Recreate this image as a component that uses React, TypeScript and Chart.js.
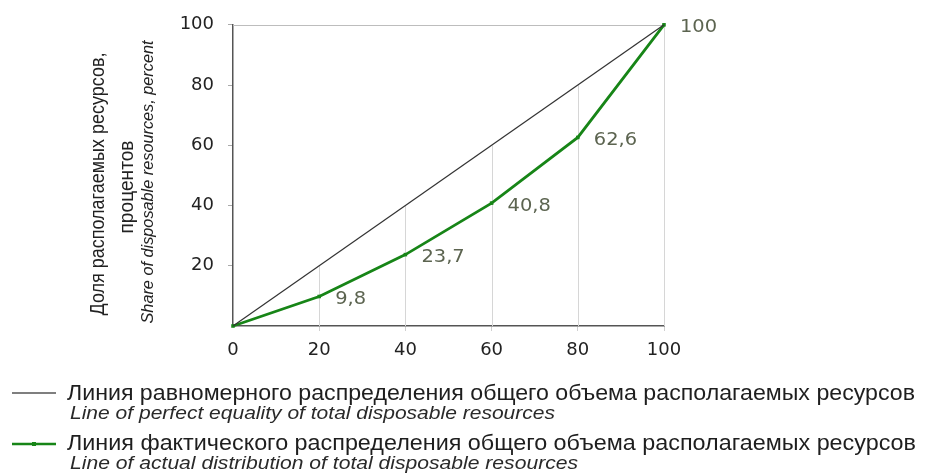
import React, { useEffect, useRef } from "react";
import { Chart, registerables } from "chart.js";

Chart.register(...registerables);

const xValues = [0, 20, 40, 60, 80, 100];
const actualShares = [0, 9.8, 23.7, 40.8, 62.6, 100];
const equalityShares = [0, 100];
const equalityX = [0, 100];
const pointLabels = ["", "9,8", "23,7", "40,8", "62,6", "100"];
const yTitleRu = ["Доля располагаемых ресурсов,", "процентов"];
const yTitleEn = "Share of disposable resources, percent";
const legendRu = [
  "Линия равномерного распределения общего объема располагаемых ресурсов",
  "Линия фактического распределения общего объема располагаемых ресурсов",
];
const legendEn = [
  "Line of perfect equality of total disposable resources",
  "Line of actual distribution of total disposable resources",
];

const GREEN = "#178517";

function fitText(ctx: CanvasRenderingContext2D, text: string, x: number, y: number, width: number) {
  const w = ctx.measureText(text).width;
  ctx.save();
  ctx.translate(x, y);
  ctx.scale(width / w, 1);
  ctx.fillText(text, 0, 0);
  ctx.restore();
}

const customDraw = {
  id: "customDraw",
  beforeDatasetsDraw(chart: any) {
    const { ctx, chartArea, scales } = chart;
    const xs = scales.x;
    const ys = scales.y;
    ctx.save();
    ctx.strokeStyle = "#d6d6d6";
    ctx.lineWidth = 1;
    for (const v of xValues) {
      if (v === 0) continue;
      const px = Math.round(xs.getPixelForValue(v)) + 0.5;
      const top = ys.getPixelForValue(v);
      ctx.beginPath();
      ctx.moveTo(px, top);
      ctx.lineTo(px, chartArea.bottom);
      ctx.stroke();
    }
    ctx.strokeStyle = "#bdbdbd";
    ctx.beginPath();
    ctx.moveTo(chartArea.left, Math.round(chartArea.top) + 0.5);
    ctx.lineTo(chartArea.right, Math.round(chartArea.top) + 0.5);
    ctx.stroke();
    ctx.restore();
  },
  afterDraw(chart: any) {
    const { ctx, scales } = chart;
    const xs = scales.x;
    const ys = scales.y;
    ctx.save();
    // point labels
    ctx.fillStyle = "#5c6450";
    ctx.font = "18px 'DejaVu Sans'";
    ctx.textBaseline = "middle";
    ctx.textAlign = "left";
    xValues.forEach((v, i) => {
      if (!pointLabels[i]) return;
      const px = xs.getPixelForValue(v);
      const py = ys.getPixelForValue(actualShares[i]);
      fitText(ctx, pointLabels[i], px + 16, py + 3, ctx.measureText(pointLabels[i]).width * 1.08);
    });

    // y axis titles (rotated)
    ctx.fillStyle = "#222";
    ctx.textAlign = "left";
    ctx.textBaseline = "middle";
    const drawRot = (text: string, cx: number, cy: number, len: number, font: string) => {
      ctx.save();
      ctx.font = font;
      ctx.translate(cx, cy);
      ctx.rotate(-Math.PI / 2);
      fitText(ctx, text, -len / 2, 0, len);
      ctx.restore();
    };
    drawRot(yTitleRu[0], 98, 184, 263, "21px 'Liberation Sans'");
    drawRot(yTitleRu[1], 127, 187, 93, "21px 'Liberation Sans'");
    drawRot(yTitleEn, 148, 182, 283, "italic 17px 'Liberation Sans'");

    // legend
    ctx.strokeStyle = "#555";
    ctx.lineWidth = 1.5;
    ctx.beginPath();
    ctx.moveTo(12, 393);
    ctx.lineTo(56, 393);
    ctx.stroke();
    ctx.strokeStyle = GREEN;
    ctx.lineWidth = 2.5;
    ctx.beginPath();
    ctx.moveTo(12, 444);
    ctx.lineTo(56, 444);
    ctx.stroke();
    ctx.fillStyle = GREEN;
    ctx.fillRect(32, 442, 4, 4);

    ctx.fillStyle = "#1e1e1e";
    ctx.textBaseline = "middle";
    ctx.font = "22px 'Liberation Sans'";
    fitText(ctx, legendRu[0], 67, 394, 848);
    fitText(ctx, legendRu[1], 67, 444, 849);
    ctx.fillStyle = "#2a2a2a";
    ctx.font = "italic 18px 'Liberation Sans'";
    fitText(ctx, legendEn[0], 70, 414, 485);
    fitText(ctx, legendEn[1], 70, 464, 508);
    ctx.restore();
  },
};

export default function App() {
  const ref = useRef<HTMLCanvasElement | null>(null);
  useEffect(() => {
    if (!ref.current) return;
    const chart = new Chart(ref.current, {
      type: "line",
      data: {
        datasets: [
          {
            label: legendRu[0],
            data: equalityX.map((x, i) => ({ x, y: equalityShares[i] })),
            borderColor: "#333",
            borderWidth: 1.2,
            pointRadius: 0,
            tension: 0,
          },
          {
            label: legendRu[1],
            data: xValues.map((x, i) => ({ x, y: actualShares[i] })),
            borderColor: GREEN,
            backgroundColor: GREEN,
            borderWidth: 2.8,
            pointStyle: "rect",
            pointRadius: 2.5,
            pointBorderWidth: 0,
            tension: 0,
            clip: false as any,
          },
        ],
      },
      options: {
        animation: false,
        responsive: false,
        maintainAspectRatio: false,
        layout: { padding: { top: 21, left: 0, right: 261, bottom: 109 } },
        plugins: { legend: { display: false }, tooltip: { enabled: false } },
        scales: {
          x: {
            type: "linear",
            min: 0,
            max: 100,
            afterFit: (s: any) => {
              s.height = 40;
            },
            afterBuildTicks: (s: any) => {
              s.ticks = xValues.map((v) => ({ value: v }));
            },
            ticks: {
              autoSkip: false,
              maxRotation: 0,
              padding: 9,
              color: "#222",
              font: { family: "'DejaVu Sans'", size: 18 },
            },
            grid: {
              drawOnChartArea: false,
              drawTicks: true,
              tickLength: 5,
              color: (c: any) => (c.tick && c.tick.value === 0 ? "rgba(0,0,0,0)" : "#d0d0d0"),
            },
            border: { display: true, color: "#555", width: 1.5 },
          },
          y: {
            type: "linear",
            min: 0,
            max: 100,
            afterFit: (s: any) => {
              s.width = 233;
            },
            ticks: {
              stepSize: 20,
              padding: 14,
              color: "#222",
              font: { family: "'DejaVu Sans'", size: 18 },
              callback: (v: any) => (v === 0 ? "" : String(v)),
            },
            grid: {
              drawOnChartArea: false,
              drawTicks: true,
              tickLength: 5,
              color: (c: any) => (c.tick && c.tick.value === 0 ? "rgba(0,0,0,0)" : "#aaaaaa"),
            },
            border: { display: true, color: "#555", width: 1.5 },
          },
        },
      },
      plugins: [customDraw],
    });
    return () => chart.destroy();
  }, []);
  return (
    <div style={{ position: "absolute", left: 0, top: 0, width: 925, height: 475, background: "#fff" }}>
      <canvas ref={ref} width={925} height={475} style={{ width: 925, height: 475, display: "block" }} />
    </div>
  );
}
